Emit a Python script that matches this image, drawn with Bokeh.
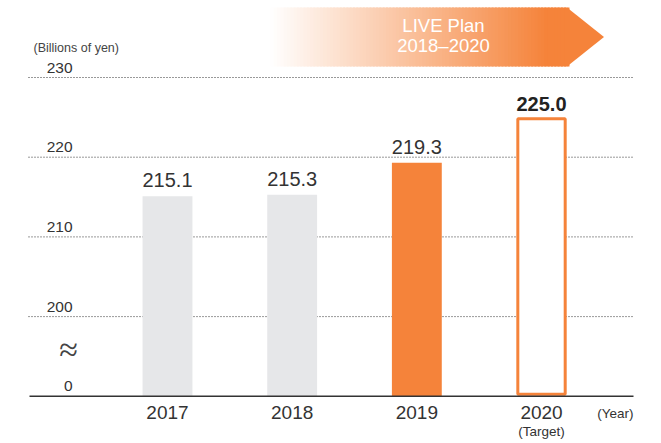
from bokeh.plotting import figure
from bokeh.models import Range1d
from bokeh.core.properties import value
from bokeh.embed import file_html
from bokeh.resources import INLINE

# ---------------- data ----------------
years = ["2017", "2018", "2019", "2020"]
sales = [215.1, 215.3, 219.3, 225.0]          # billions of yen
sales_labels = ["215.1", "215.3", "219.3", "225.0"]
tick_values = [0, 200, 210, 220, 230]
tick_labels = ["0", "200", "210", "220", "230"]
grid_values = [200, 210, 220, 230]
banner_lines = ["LIVE Plan", "2018\u20132020"]

# ---------------- broken axis mapping ----------------
BREAK_AT = 200.0      # values >= 200 shown on a linear scale
BASELINE = 190.0      # display position of 0 (axis break below 200)


def disp(v):
    return v if v >= BREAK_AT else BASELINE + (v / BREAK_AT) * (BREAK_AT - BASELINE)


# ---------------- layout helpers ----------------
W, H = 661, 443
PX_X = 124.67          # px per category step
X0 = 167.0             # px of first category
PX_Y = 7.97            # px per billion yen
Y_TOP = 230 + 77 / PX_Y
Y_BOT = Y_TOP - H / PX_Y


def sx(px):
    return (px - X0) / PX_X


def sy(py):
    return Y_TOP - py / PX_Y


FONT = value("Liberation Sans")
TXT = "#333333"
ORANGE = "#F5833A"
GRAY = "#E6E7E9"

p = figure(width=W, height=H, x_range=Range1d(-X0 / PX_X, (W - X0) / PX_X),
           y_range=Range1d(Y_BOT, Y_TOP), x_axis_type=None, y_axis_type=None,
           toolbar_location=None, output_backend="svg", min_border=0)
p.outline_line_color = None
p.background_fill_color = "white"
p.border_fill_color = "white"

xs = list(range(len(years)))

# gridlines (dotted)
gx0, gx1 = sx(28), sx(633)
gy = [disp(v) for v in grid_values]
p.segment(x0=[gx0] * len(gy), x1=[gx1] * len(gy), y0=gy, y1=gy,
          line_color="#333333", line_width=1, line_dash="1 2")

# banner with gradient
N = 90
bl, br = sx(270), sx(567)
btop, bbot = sy(7), sy(66)
step = (br - bl) / N
lefts, rights, cols = [], [], []
o = (245, 131, 58)
for i in range(N):
    t = (i + 0.5) / N
    a = min(1.0, t / 0.93)
    c = tuple(int(round(255 + (oc - 255) * a)) for oc in o)
    lefts.append(bl + i * step)
    rights.append(bl + (i + 1) * step + step * 0.6)
    cols.append("#%02x%02x%02x" % c)
p.quad(left=lefts, right=rights, top=[btop] * N, bottom=[bbot] * N,
       fill_color=cols, line_color=None)
p.patch([sx(566.5), sx(603.5), sx(566.5)], [btop, sy(36.5), bbot],
        fill_color=ORANGE, line_color=None)
p.text(x=[sx(443)] * 2, y=[sy(24.5), sy(44.5)], text=banner_lines,
       text_font=FONT, text_font_size="18.5px", text_color="white",
       text_align="center", text_baseline="middle")

# bars
p.vbar(x=xs[:3], top=sales[:3], bottom=disp(0), width=0.4,
       fill_color=[GRAY, GRAY, ORANGE], line_color=None)
p.vbar(x=xs[3:], top=[s - 0.18 for s in sales[3:]], bottom=disp(0) + 0.25,
       width=0.38, fill_color="white", line_color=ORANGE, line_width=3)

# axis baseline
p.segment(x0=[sx(29)], x1=[sx(633)], y0=[disp(0)], y1=[disp(0)],
          line_color="#333333", line_width=1.5)

# value labels
p.text(x=xs[:3], y=sales[:3], text=sales_labels[:3], text_font=FONT,
       text_font_size="20px", text_color=TXT, text_align="center",
       text_baseline="middle", y_offset=-16)
p.text(x=xs[3:], y=sales[3:], text=sales_labels[3:], text_font=FONT,
       text_font_size="20px", text_font_style="bold", text_color="#222222",
       text_align="center", text_baseline="middle", y_offset=-13)

# y tick labels
p.text(x=[sx(72)] * len(tick_values), y=[disp(v) for v in tick_values],
       text=tick_labels, text_font=FONT, text_font_size="15.5px",
       text_color=TXT, text_align="right", text_baseline="middle",
       y_offset=-10)

# axis break symbol
p.text(x=[sx(68)], y=[sy(349)], text=["\u2248"],
       text_font=value("DejaVu Sans ExtraLight"),
       text_font_size="34px", text_color="#444444", text_align="center",
       text_baseline="middle")

# unit label
p.text(x=[sx(33)], y=[sy(47)], text=["(Billions of yen)"], text_font=FONT,
       text_font_size="12.5px", text_color="#444444", text_align="left",
       text_baseline="middle")

# year labels
p.text(x=xs, y=[disp(0)] * len(xs), text=years, text_font=FONT,
       text_font_size="19px", text_color=TXT, text_align="center",
       text_baseline="middle", y_offset=16.5)
p.text(x=xs[3:], y=[disp(0)], text=["(Target)"], text_font=FONT,
       text_font_size="13.5px", text_color=TXT, text_align="center",
       text_baseline="middle", y_offset=35)
p.text(x=[sx(633)], y=[disp(0)], text=["(Year)"], text_font=FONT,
       text_font_size="13.5px", text_color=TXT, text_align="right",
       text_baseline="middle", y_offset=17)

open("out.html", "w").write(file_html(p, INLINE))
